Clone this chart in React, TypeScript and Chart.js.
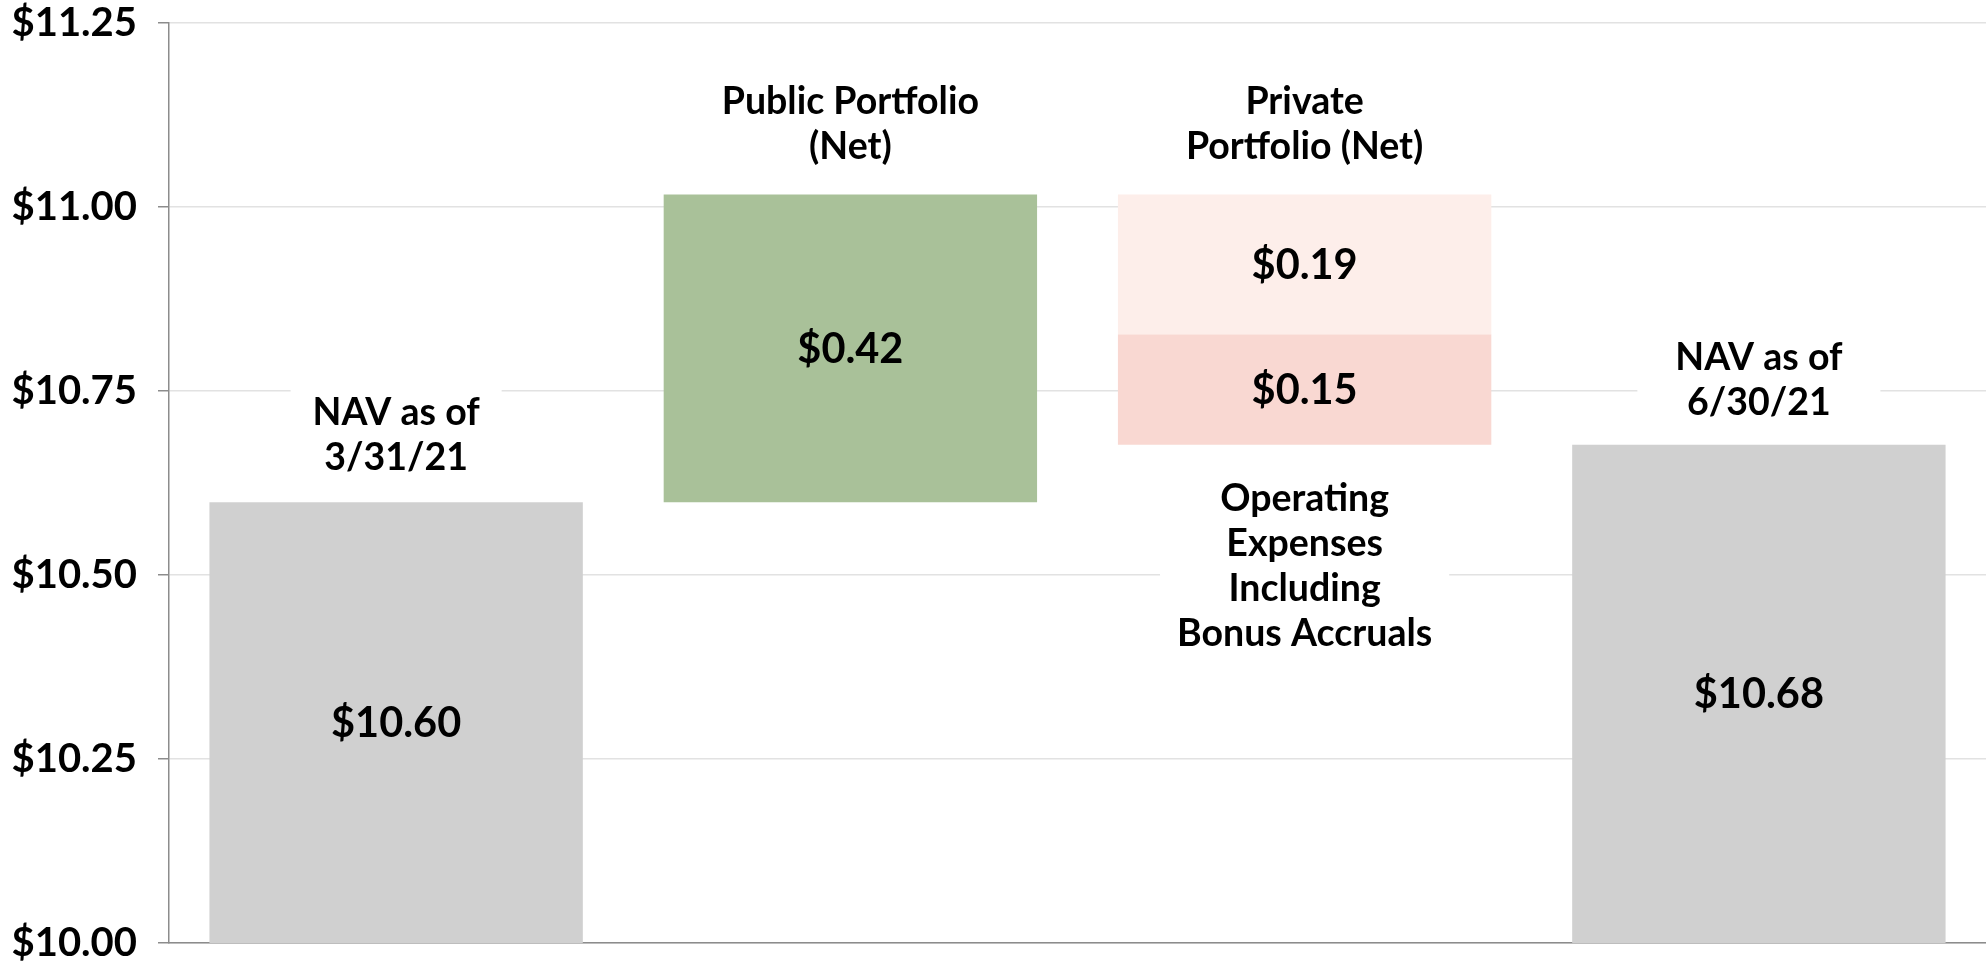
import React, { useEffect, useRef } from "react";
import { Chart, registerables } from "chart.js";

Chart.register(...registerables);

// ---------- data ----------
const categories = ["NAV 3/31/21", "Public Portfolio", "Private Portfolio", "NAV 6/30/21"];
const startNav = 10.599;
const publicChange = 0.418;
const privateChange = -0.19;
const expenseChange = -0.15;
const endNav = 10.677;
const yTicks = [10.0, 10.25, 10.5, 10.75, 11.0, 11.25];
const yMin = 10.0;
const yMax = 11.25;

const categoryLabelLines = [
  ["NAV as of", "3/31/21"],
  ["Public Portfolio", "(Net)"],
  ["Private", "Portfolio (Net)"],
  ["NAV as of", "6/30/21"],
];
const expenseLabelLines = ["Operating", "Expenses", "Including", "Bonus Accruals"];

// ---------- derived ----------
const afterPublic = startNav + publicChange;
const afterPrivate = afterPublic + privateChange;
const afterExpense = afterPrivate + expenseChange;

const mainData: any[] = [
  [yMin, startNav],
  [startNav, afterPublic],
  [afterPrivate, afterPublic],
  [yMin, endNav],
];
const mainValues = [startNav, publicChange, privateChange, endNav];
const expenseData: any[] = [null, null, [afterExpense, afterPrivate], null];
const expenseValues = [null, null, expenseChange, null];

// ---------- styles ----------
const FONT = "Lato, 'Noto Sans', sans-serif";
const mainColors = ["#D0D0D0", "#A9C199", "#FDEEEA", "#D0D0D0"];
const expenseColor = "#F9D8D2";
const axisColor = "#8C8C8C";
const gridColor = "#E2E2E2";
const labelGapAbove = [32, 35, 35, 30];
const labelPadX = [22, 20, 20, 38];
const expenseGapBelow = 66;
const expensePadX = 17;
const catFontSize = 37.5;
const catLineHeight = 45;
const valueFontSize = 41.5;

const fmt = (v: number) => "$" + Math.abs(v).toFixed(2);

const labelPlugin = {
  id: "waterfallLabels",
  afterDatasetsDraw(chart: any) {
    const ctx = chart.ctx as CanvasRenderingContext2D;
    const m0 = chart.getDatasetMeta(0);
    const m1 = chart.getDatasetMeta(1);
    ctx.save();

    const drawBlock = (lines: string[], cx: number, firstBaseline: number, padX: number) => {
      ctx.font = `bold ${catFontSize}px ${FONT}`;
      const w = Math.max(...lines.map((l) => ctx.measureText(l).width));
      const top = firstBaseline - 36;
      const bottom = firstBaseline + (lines.length - 1) * catLineHeight + 10;
      ctx.fillStyle = "#FFFFFF";
      ctx.fillRect(cx - w / 2 - padX, top, w + 2 * padX, bottom - top);
      ctx.fillStyle = "#000000";
      ctx.textAlign = "center";
      ctx.textBaseline = "alphabetic";
      lines.forEach((l, i) => ctx.fillText(l, cx, firstBaseline + i * catLineHeight));
    };

    // category labels above bars
    m0.data.forEach((el: any, i: number) => {
      const top = Math.min(el.y, el.base);
      const lines = categoryLabelLines[i];
      const lastBaseline = top - labelGapAbove[i];
      const firstBaseline = lastBaseline - (lines.length - 1) * catLineHeight;
      drawBlock(lines, el.x, firstBaseline, labelPadX[i]);
    });
    // expense label below its bar
    m1.data.forEach((el: any, i: number) => {
      if (expenseValues[i] == null) return;
      const bottom = Math.max(el.y, el.base);
      drawBlock(expenseLabelLines, el.x, bottom + expenseGapBelow, expensePadX);
    });

    // value labels
    ctx.font = `bold ${valueFontSize}px ${FONT}`;
    ctx.fillStyle = "#000000";
    ctx.textAlign = "center";
    ctx.textBaseline = "middle";
    m0.data.forEach((el: any, i: number) => {
      ctx.fillText(fmt(mainValues[i]), el.x, (el.y + el.base) / 2 + 1);
    });
    m1.data.forEach((el: any, i: number) => {
      const v = expenseValues[i];
      if (v == null) return;
      ctx.fillText(fmt(v), el.x, (el.y + el.base) / 2 + 1);
    });
    ctx.restore();
  },
};

export default function App() {
  const ref = useRef<HTMLCanvasElement | null>(null);

  useEffect(() => {
    document.body.style.margin = "0";
    let chart: Chart | null = null;
    let cancelled = false;
    const make = () => {
      if (cancelled || !ref.current) return;
      chart = new Chart(ref.current, {
        type: "bar",
        data: {
          labels: categories,
          datasets: [
            {
              data: mainData,
              backgroundColor: mainColors,
              borderWidth: 0,
              grouped: false,
              barPercentage: 0.822,
              categoryPercentage: 1,
            } as any,
            {
              data: expenseData,
              backgroundColor: expenseColor,
              borderWidth: 0,
              grouped: false,
              barPercentage: 0.822,
              categoryPercentage: 1,
            } as any,
          ],
        },
        options: {
          responsive: false,
          animation: false,
          layout: { padding: { top: 23, bottom: 20, left: 0, right: 0 } },
          plugins: { legend: { display: false }, tooltip: { enabled: false } },
          scales: {
            x: {
              type: "category",
              ticks: { display: false },
              grid: { display: false },
              border: { display: true, color: axisColor, width: 1.5 },
              afterFit: (s: any) => {
                s.height = 0;
              },
            },
            y: {
              type: "linear",
              min: yMin,
              max: yMax,
              afterBuildTicks: (s: any) => {
                s.ticks = yTicks.map((v) => ({ value: v }));
              },
              ticks: {
                callback: (v: any) => "$" + Number(v).toFixed(2),
                font: { family: FONT, weight: "bold", size: 40, lineHeight: 1 },
                color: "#000000",
                padding: 21,
              },
              grid: {
                color: gridColor,
                lineWidth: 1.5,
                tickLength: 11,
                tickColor: axisColor,
                drawTicks: true,
              },
              border: { display: true, color: axisColor, width: 1.5 },
              afterFit: (s: any) => {
                s.width = 169;
                s.paddingTop = 0;
                s.paddingBottom = 0;
              },
            },
          },
        },
        plugins: [labelPlugin],
      } as any);
    };
    const fonts: any = (document as any).fonts;
    if (fonts && fonts.load) {
      Promise.all([
        fonts.load(`bold 40px Lato`),
        fonts.load(`bold 37.5px Lato`),
        fonts.load(`bold 41.5px Lato`),
      ]).then(make, make);
    } else {
      make();
    }
    return () => {
      cancelled = true;
      if (chart) chart.destroy();
    };
  }, []);

  return (
    <div style={{ position: "absolute", left: 0, top: 0, width: 1986, height: 963, background: "#fff" }}>
      <canvas ref={ref} width={1986} height={963} style={{ display: "block", width: 1986, height: 963 }} />
    </div>
  );
}
